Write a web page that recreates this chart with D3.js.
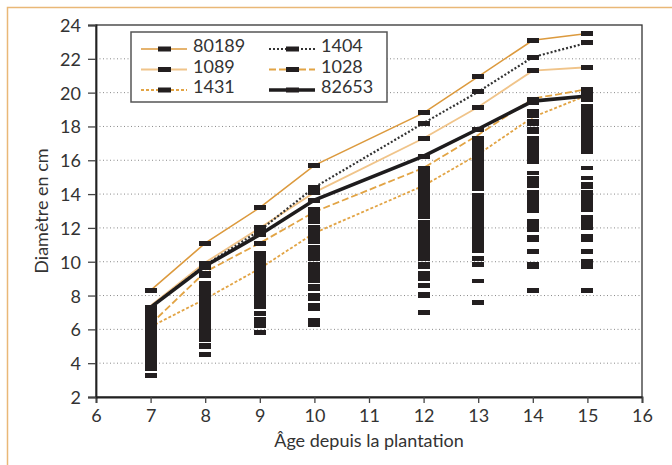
<!DOCTYPE html>
<html>
<head>
<meta charset="utf-8">
<script src="https://cdn.jsdelivr.net/npm/d3@7"></script>
<style>
  body { margin: 0; background: #fff; }
  svg text { font-family: "Lato", "Open Sans", sans-serif; fill: #333; }
</style>
</head>
<body>
<div id="chart-area"></div>
<script>
// Ages of measurement
const ages = [7, 8, 9, 10, 12, 13, 14, 15];
const xTicks = [6, 7, 8, 9, 10, 11, 12, 13, 14, 15, 16];
const yTicks = [2, 4, 6, 8, 10, 12, 14, 16, 18, 20, 22, 24];

// Mean diameter per clone (cm)
const cloneNames = ["80189", "1089", "1431", "1404", "1028", "82653"];
const c80189 = [8.3, 11.1, 13.2, 15.7, 18.8, 20.95, 23.1, 23.5];
const c1089 = [7.4, 9.95, 12.0, 14.1, 17.3, 19.15, 21.3, 21.5];
const c1431 = [6.15, 7.8, 9.6, 11.7, 14.5, 16.35, 18.55, 19.85];
const c1404 = [7.3, 9.8, 11.85, 14.4, 18.2, 20.05, 22.1, 22.95];
const c1028 = [6.3, 9.4, 11.1, 12.95, 15.55, 17.5, 19.65, 20.2];
const c82653 = [7.3, 9.75, 11.6, 13.65, 16.25, 17.85, 19.5, 19.8];

// Individual tree diameters at each age (cm)
const diam7 = [8.29, 7.28, 7.12, 6.99, 6.69, 6.52, 6.30, 6.14, 5.95, 5.71, 5.55, 5.38,
  5.16, 4.97, 4.80, 4.58, 4.43, 4.21, 4.05, 3.86, 3.70, 3.26];
const diam8 = [11.09, 9.91, 9.62, 9.32, 9.20, 8.72, 8.55, 8.33, 8.16, 7.95, 7.78, 7.57,
  7.40, 7.19, 7.01, 6.82, 6.63, 6.45, 6.24, 6.06, 5.90, 5.81, 5.51, 5.40, 5.08, 4.98, 4.52];
const diam9 = [13.20, 12.02, 11.74, 11.62, 11.09, 10.50, 10.31, 10.12, 9.94, 9.73, 9.55,
  9.36, 9.15, 8.97, 8.78, 8.58, 8.40, 8.21, 8.02, 7.83, 7.64, 7.46, 7.33, 6.94, 6.59,
  6.42, 6.24, 5.80];
const diam10 = [15.69, 14.38, 14.11, 13.63, 13.08, 12.89, 12.69, 12.37, 12.02, 11.83,
  11.62, 11.41, 11.19, 10.87, 10.66, 10.45, 10.19, 9.84, 9.63, 9.45, 9.24, 9.05, 8.87,
  8.52, 8.41, 7.99, 7.84, 7.40, 7.24, 6.51, 6.30];
const diam12 = [18.82, 18.17, 17.28, 16.22, 15.51, 15.30, 15.10, 14.92, 14.62, 14.41,
  14.20, 14.11, 13.79, 13.60, 13.38, 13.19, 12.98, 12.80, 12.67, 12.35, 12.14, 11.95,
  11.76, 11.61, 11.31, 11.10, 10.92, 10.71, 10.50, 10.32, 10.20, 9.87, 9.71, 9.30, 9.00,
  8.59, 8.08, 8.00, 6.99];
const diam13 = [20.95, 20.06, 19.13, 17.82, 17.28, 17.07, 16.88, 16.71, 16.39, 16.20,
  16.12, 15.80, 15.61, 15.40, 15.22, 15.01, 14.83, 14.62, 14.45, 14.34, 13.91, 13.70,
  13.52, 13.40, 13.08, 12.87, 12.68, 12.47, 12.28, 12.02, 11.72, 11.51, 11.33, 11.12,
  10.91, 10.73, 10.64, 10.18, 9.85, 8.86, 7.58];
const diam14 = [23.08, 22.08, 21.31, 19.59, 19.42, 18.88, 18.70, 18.63, 18.29, 18.17,
  17.85, 17.70, 17.28, 17.08, 16.87, 16.69, 16.48, 16.29, 16.10, 15.94, 15.25, 14.92,
  14.80, 14.50, 14.08, 13.89, 13.68, 13.47, 13.28, 13.10, 13.02, 12.37, 12.16, 11.95,
  11.90, 11.42, 11.31, 10.60, 9.83, 9.72, 8.29];
const diam15 = [23.50, 22.96, 21.49, 20.18, 19.97, 19.78, 19.59, 19.18, 18.99, 18.78,
  18.60, 18.41, 18.20, 18.02, 17.81, 17.63, 17.42, 17.23, 17.04, 16.84, 16.65, 16.52,
  15.54, 14.96, 14.60, 14.42, 14.12, 14.02, 13.74, 13.55, 13.34, 13.15, 13.08, 12.60,
  12.40, 12.21, 12.02, 11.48, 11.31, 10.60, 10.00, 9.71, 8.29];

const width = 672;
const height = 465;
const margin = {left: 96, right: 30, top: 25, bottom: 68};

const svg = d3.select("#chart-area")
  .append("svg")
  .attr("width", width)
  .attr("height", height);

// outer tan frame (runs off the picture on the right and bottom)
svg.append("rect")
  .attr("x", 7.5).attr("y", 7.5)
  .attr("width", 700).attr("height", 500)
  .attr("fill", "none")
  .attr("stroke", "#e9b877")
  .attr("stroke-width", 1.5);

const x = d3.scaleLinear().domain([6, 16]).range([margin.left, width - margin.right]);
const y = d3.scaleLinear().domain([2, 24]).range([height - margin.bottom, margin.top]);

// dotted grid lines
svg.append("g")
  .selectAll("line")
  .data(yTicks.slice(1, -1))
  .join("line")
  .attr("x1", x(6)).attr("x2", x(16))
  .attr("y1", d => y(d)).attr("y2", d => y(d))
  .attr("stroke", "#8a8a8a")
  .attr("stroke-width", 1)
  .attr("stroke-dasharray", "1,2.5");

// plot frame
svg.append("rect")
  .attr("x", x(6)).attr("y", y(24))
  .attr("width", x(16) - x(6)).attr("height", y(2) - y(24))
  .attr("fill", "none")
  .attr("stroke", "#333")
  .attr("stroke-width", 1.3);

const xAxis = svg.append("g")
  .attr("transform", `translate(0,${y(2)})`)
  .call(d3.axisBottom(x).tickValues(xTicks).tickSize(6).tickPadding(6).tickFormat(d3.format("d")));
const yAxis = svg.append("g")
  .attr("transform", `translate(${x(6)},0)`)
  .call(d3.axisLeft(y).tickValues(yTicks).tickSize(8).tickPadding(7).tickFormat(d3.format("d")));

[xAxis, yAxis].forEach(g => {
  g.select(".domain").attr("stroke", "#222").attr("stroke-width", 1.8);
  g.selectAll(".tick line").attr("stroke", "#444").attr("stroke-width", 1.3);
  g.selectAll(".tick text").style("font-size", "18px").attr("fill", "#333");
});
yAxis.selectAll(".tick text").attr("dy", "0.36em");

// axis titles
svg.append("text")
  .attr("x", (x(6) + x(16)) / 2)
  .attr("y", 447)
  .attr("text-anchor", "middle")
  .style("font-size", "18px")
  .text("Âge depuis la plantation");

svg.append("text")
  .attr("transform", `translate(48,${(y(2) + y(24)) / 2}) rotate(-90)`)
  .attr("text-anchor", "middle")
  .style("font-size", "18px")
  .text("Diamètre en cm");

// line styles for each clone
const styles = {
  "80189": {color: "#dc9a3e", width: 1.6, dash: null},
  "1089": {color: "#f0c48a", width: 1.8, dash: null},
  "1431": {color: "#e2a445", width: 1.8, dash: "3,2"},
  "1404": {color: "#333", width: 2.2, dash: "2,2"},
  "1028": {color: "#e2a445", width: 1.8, dash: "7,3"},
  "82653": {color: "#1e1c1d", width: 3.6, dash: null}
};
const cloneValues = [c80189, c1089, c1431, c1404, c1028, c82653];

const line = d3.line()
  .x((d, i) => x(ages[i]))
  .y(d => y(d));

// draw in order so the thick black line sits on top
const drawOrder = ["1089", "80189", "1404", "1028", "1431", "82653"];
drawOrder.forEach(name => {
  const st = styles[name];
  svg.append("path")
    .datum(cloneValues[cloneNames.indexOf(name)])
    .attr("d", line)
    .attr("fill", "none")
    .attr("stroke", st.color)
    .attr("stroke-width", st.width)
    .attr("stroke-dasharray", st.dash);
});

// individual tree markers
const columns = [diam7, diam8, diam9, diam10, diam12, diam13, diam14, diam15];
const markW = 12, markH = 4.6;
columns.forEach((vals, i) => {
  svg.append("g")
    .attr("shape-rendering", "crispEdges")
    .selectAll("rect")
    .data(vals)
    .join("rect")
    .attr("x", x(ages[i]) - markW / 2)
    .attr("y", d => y(d) - markH / 2)
    .attr("width", markW)
    .attr("height", markH)
    .attr("fill", "#231f20");
});

// legend
const legend = svg.append("g");
legend.append("rect")
  .attr("x", 131).attr("y", 32)
  .attr("width", 256).attr("height", 70)
  .attr("fill", "#fff")
  .attr("stroke", "#555")
  .attr("stroke-width", 1.5);

const legendOrder = ["80189", "1089", "1431", "1404", "1028", "82653"];
legendOrder.forEach((name, i) => {
  const col = Math.floor(i / 3);
  const row = i % 3;
  const lx = col === 0 ? 141 : 269;
  const ly = 49 + row * 20.5;
  const st = styles[name];
  legend.append("line")
    .attr("x1", lx).attr("x2", lx + 46)
    .attr("y1", ly).attr("y2", ly)
    .attr("stroke", st.color)
    .attr("stroke-width", st.width)
    .attr("stroke-dasharray", st.dash);
  legend.append("rect")
    .attr("x", lx + 17).attr("y", ly - 2.5)
    .attr("width", 13).attr("height", 5)
    .attr("fill", "#231f20");
  legend.append("text")
    .attr("x", lx + 52)
    .attr("y", ly + 3)
    .style("font-size", "18px")
    .text(name);
});
</script>
</body>
</html>
